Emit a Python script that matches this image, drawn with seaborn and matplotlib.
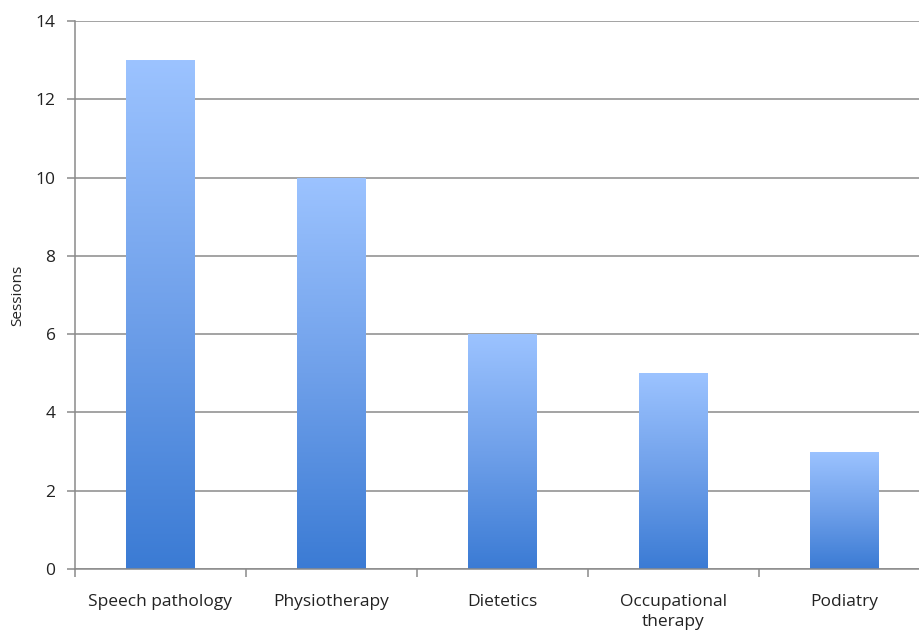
import numpy as np
import pandas as pd
import matplotlib
matplotlib.use("Agg")
import matplotlib.pyplot as plt
from matplotlib.colors import LinearSegmentedColormap
import seaborn as sns

categories = ["Speech pathology", "Physiotherapy", "Dietetics", "Occupational\ntherapy", "Podiatry"]
sessions = [13, 10, 6, 5, 3]
y_ticks = [0, 2, 4, 6, 8, 10, 12, 14]

df = pd.DataFrame({"service": categories, "sessions": sessions})

sns.set_theme(style="white")
plt.rcParams["font.family"] = ["Open Sans", "DejaVu Sans"]

fig = plt.figure(figsize=(9.19, 6.32), dpi=100)
ax = fig.add_axes([75 / 919, 1 - 569 / 632, (930 - 75) / 919, (569 - 21) / 632])

sns.barplot(data=df, x="service", y="sessions", ax=ax, width=0.4,
            color="#7aa9ee", saturation=1, edgecolor="none")

ax.set_xlim(-0.5, len(categories) - 0.5)
ax.set_ylim(0, 14)
ax.set_yticks(y_ticks)
ax.set_yticklabels([str(t) for t in y_ticks])

grid_col = "#8a8a8a"
ax.set_axisbelow(True)
ax.yaxis.grid(True, color=grid_col, linewidth=1.1)
ax.xaxis.grid(False)
for side in ["top", "right"]:
    ax.spines[side].set_visible(False)
for side in ["left", "bottom"]:
    ax.spines[side].set_color(grid_col)
    ax.spines[side].set_linewidth(1.1)

# category boundary ticks on the x axis
ax.set_xticks(np.arange(len(categories)))
ax.set_xticks(np.arange(-0.5, len(categories) + 0.5, 1), minor=True)
ax.tick_params(axis="x", which="major", length=0, pad=18, labelsize=12.5, labelcolor="#222222")
for lbl in ax.get_xticklabels():
    lbl.set_linespacing(1.35)
ax.tick_params(axis="x", which="minor", length=6, width=1.1, color=grid_col, bottom=True)
ax.tick_params(axis="y", which="major", length=6, width=1.1, color=grid_col, left=True,
               labelsize=12.5, labelcolor="#222222", pad=8)
ax.set_xlabel("")
ax.set_ylabel("Sessions", fontsize=11, color="#222222")
ax.yaxis.set_label_coords(-50 / 855, 0.5)

# vertical gradient fill, light at the top, deeper blue at the base
cmap = LinearSegmentedColormap.from_list("bar_grad", ["#3b7bd4", "#6fa0ea", "#9cc3ff"])
grad = np.linspace(0, 1, 256).reshape(-1, 1)
for patch in ax.patches:
    x0, y0 = patch.get_x(), patch.get_y()
    w, h = patch.get_width(), patch.get_height()
    im = ax.imshow(grad, cmap=cmap, origin="lower", aspect="auto",
                   extent=[x0, x0 + w, y0, y0 + h], zorder=patch.get_zorder() + 0.1)
    im.set_clip_path(patch)
    patch.set_facecolor("none")

ax.set_xlim(-0.5, len(categories) - 0.5)
ax.set_ylim(0, 14)

fig.savefig("out.png", dpi=100)
